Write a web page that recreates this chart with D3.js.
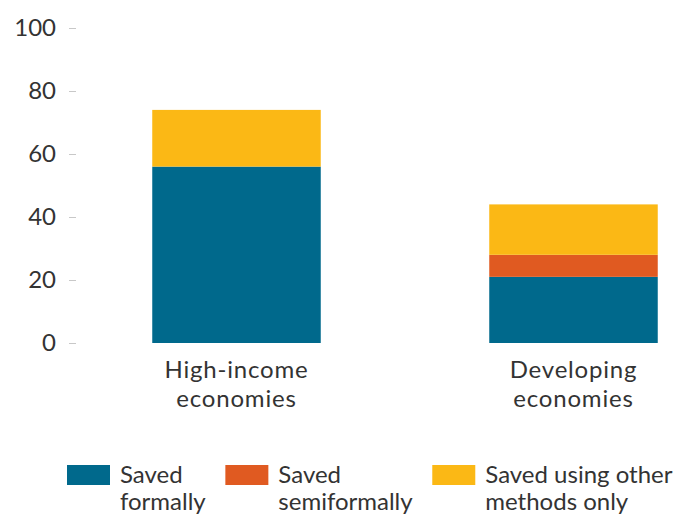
<!DOCTYPE html>
<html>
<head>
<meta charset="utf-8">
<script src="https://cdn.jsdelivr.net/npm/d3@7"></script>
<style>
  body { margin: 0; background: #fff; }
  text { font-family: Lato, "Open Sans", sans-serif; fill: #333; }
</style>
</head>
<body>
<div id="chart"></div>
<script>
var categories = [["High-income", "economies"], ["Developing", "economies"]];
var seriesNames = [["Saved", "formally"], ["Saved", "semiformally"], ["Saved using other", "methods only"]];
var savedFormally = [56, 21];
var savedSemiformally = [0, 7];
var savedOther = [18, 16];
var yTicks = [0, 20, 40, 60, 80, 100];
var colors = ["#00698c", "#e05a21", "#fbb815"];

var width = 680, height = 514;

var svg = d3.select("#chart").append("svg")
    .attr("width", width)
    .attr("height", height);

var keys = ["formal", "semi", "other"];
var data = categories.map(function(c, i) {
    return {cat: c.join(" "), formal: savedFormally[i], semi: savedSemiformally[i], other: savedOther[i]};
});

var layers = d3.stack().keys(keys)(data);

var x = d3.scaleBand()
    .domain(data.map(function(d) { return d.cat; }))
    .range([68, 742])
    .paddingInner(0.5)
    .paddingOuter(0.25);

var y = d3.scaleLinear()
    .domain([0, 100])
    .range([343, 28]);

var color = d3.scaleOrdinal().domain(keys).range(colors);

// y axis
var yAxis = d3.axisLeft(y)
    .tickValues(yTicks)
    .tickSize(7)
    .tickPadding(13);

var gy = svg.append("g")
    .attr("transform", "translate(76,0)")
    .call(yAxis);
gy.select(".domain").remove();
gy.selectAll(".tick line").attr("stroke", "#c8c8c8");
gy.selectAll(".tick text")
    .attr("fill", "#333")
    .style("font-family", "Lato, sans-serif")
    .style("font-size", "24px");

// bars
svg.append("g").selectAll("g")
    .data(layers)
    .enter().append("g")
    .attr("fill", function(d) { return color(d.key); })
    .selectAll("rect")
    .data(function(d) { return d; })
    .enter().append("rect")
    .attr("x", function(d) { return x(d.data.cat); })
    .attr("y", function(d) { return y(d[1]); })
    .attr("width", x.bandwidth())
    .attr("height", function(d) { return y(d[0]) - y(d[1]); });

// category labels
var catLabels = svg.append("g").selectAll("text")
    .data(categories)
    .enter().append("text")
    .attr("x", function(d) { return x(d.join(" ")) + x.bandwidth() / 2; })
    .attr("y", 378)
    .attr("text-anchor", "middle")
    .style("font-size", "24px")
    .style("letter-spacing", "0.8px");

catLabels.selectAll("tspan")
    .data(function(d) { return d; })
    .enter().append("tspan")
    .attr("x", function() { return d3.select(this.parentNode).attr("x"); })
    .attr("dy", function(d, i) { return i === 0 ? 0 : 29; })
    .text(function(d) { return d; });

// legend
var legend = svg.append("g").attr("class", "legend");
var lx = 67;
seriesNames.forEach(function(name, i) {
    var item = legend.append("g").attr("transform", "translate(" + lx + ",0)");
    item.append("rect")
        .attr("x", 0)
        .attr("y", 465)
        .attr("width", 43)
        .attr("height", 20)
        .attr("fill", colors[i]);
    var t = item.append("text")
        .attr("x", 53)
        .attr("y", 483)
        .style("font-size", "24px");
    t.selectAll("tspan")
        .data(name)
        .enter().append("tspan")
        .attr("x", 53)
        .attr("dy", function(d, j) { return j === 0 ? 0 : 27; })
        .text(function(d) { return d; });
    var w = t.node().getBBox().width;
    lx += 53 + w + 19;
});
</script>
</body>
</html>
